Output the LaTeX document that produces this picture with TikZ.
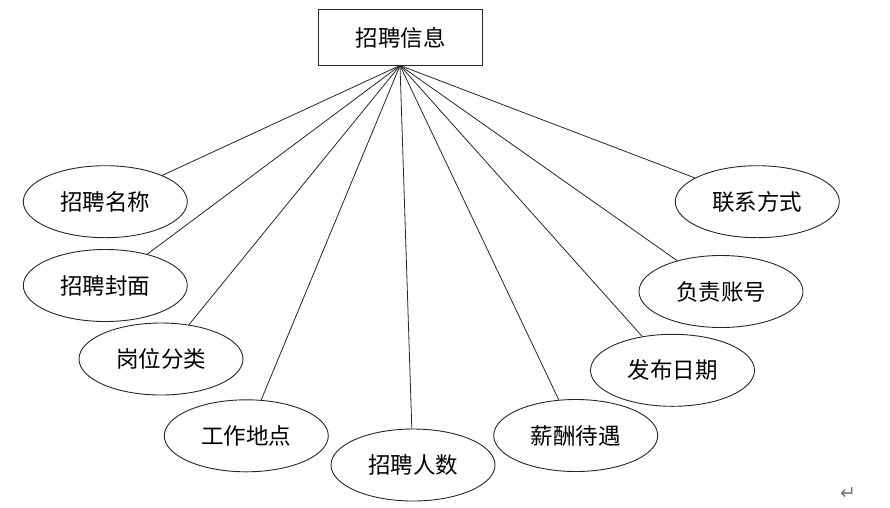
\documentclass[tikz,border=0pt]{standalone}
\usepackage{fontspec}
\usetikzlibrary{shapes.geometric}
\newfontfamily\cjk{Noto Sans CJK SC}
\newfontfamily\dejavu{DejaVu Sans}
\begin{document}
\begin{tikzpicture}[x=1pt,y=-1pt,
  entity/.style={draw=black!85,line width=0.9pt,rectangle,minimum width=164pt,minimum height=56pt,inner sep=0pt,font=\cjk\fontsize{22.5}{22.5}\selectfont},
  attr/.style={draw=black!85,line width=0.9pt,ellipse,minimum width=164pt,minimum height=72pt,inner sep=0pt,font=\cjk\fontsize{22.5}{22.5}\selectfont},
  link/.style={draw=black!85,line width=0.8pt}]
\useasboundingbox (0,0) rectangle (890,507);
\node[entity] (top) at (400.7,37.5) {招聘信息};
\coordinate (hub) at (400,65.5);
\node[attr] (a1) at (105.3,201.7) {招聘名称};
\node[attr] (a2) at (105.3,285.5) {招聘封面};
\node[attr] (a3) at (161,359) {岗位分类};
\node[attr] (a4) at (246.3,435.8) {工作地点};
\node[attr] (a5) at (413,465) {招聘人数};
\node[attr] (a6) at (575.7,435.5) {薪酬待遇};
\node[attr] (a7) at (672.5,370.3) {发布日期};
\node[attr] (a8) at (721,291.5) {负责账号};
\node[attr] (a9) at (757.3,201.7) {联系方式};
\foreach \n in {a1,a2,a3,a4,a5,a6,a7,a8,a9}{\draw[link] (hub) -- (\n);}
\node[text=black!55,font=\dejavu\fontsize{19}{19}\selectfont,inner sep=0pt] (pm) at (848,494) {↵};
\end{tikzpicture}
\end{document}
